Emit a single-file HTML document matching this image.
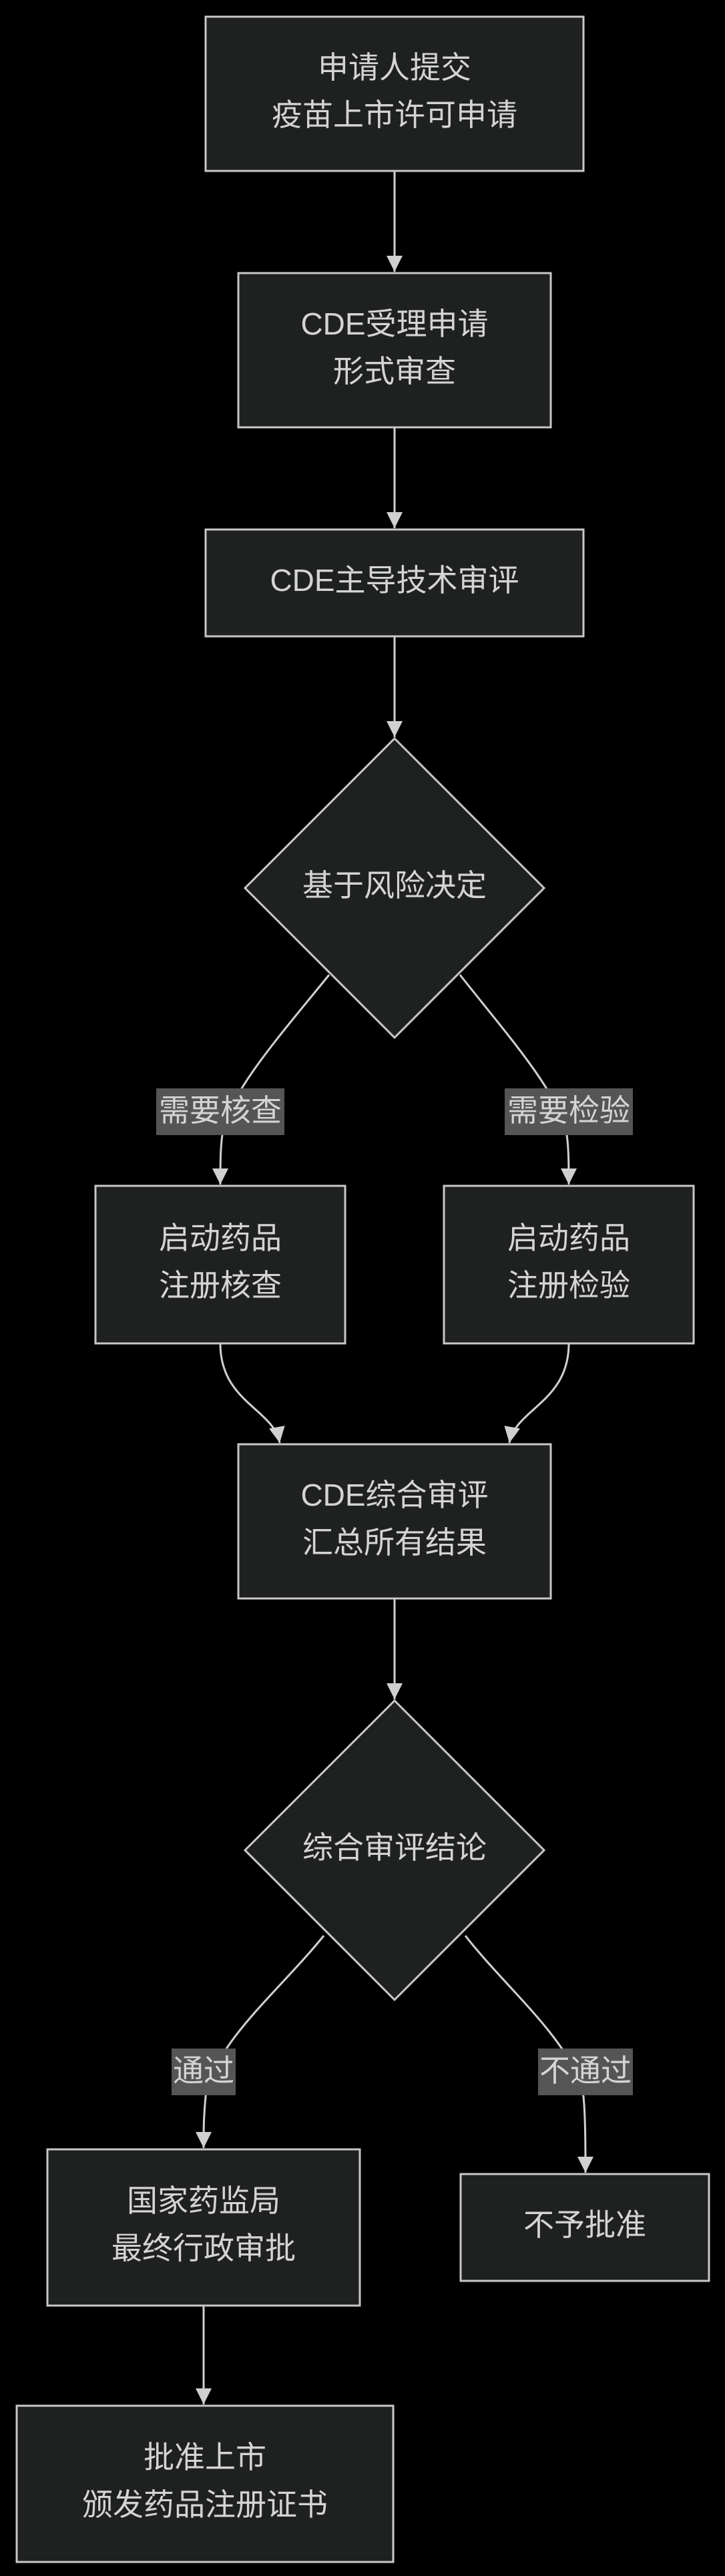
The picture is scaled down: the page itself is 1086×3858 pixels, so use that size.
<!DOCTYPE html>
<html><head><meta charset="utf-8"><style>
html,body{margin:0;padding:0;background:#000;}
svg{display:block;}
text{font-family:"Liberation Sans","Noto Sans CJK SC",sans-serif;font-size:46px;fill:#d4d4d4;text-anchor:middle;dominant-baseline:central;}
.n{fill:#1f2020;stroke:#c8c8c8;stroke-width:3;}
.e{fill:none;stroke:#d0d0d0;stroke-width:3;}
.lb{fill:#555;}
</style></head><body>
<svg width="1086" height="3858" viewBox="0 0 1086 3858" xmlns="http://www.w3.org/2000/svg">
<defs>
<marker id="b" viewBox="0 0 10 10" refX="10" refY="5" markerWidth="24" markerHeight="24" markerUnits="userSpaceOnUse" orient="auto"><path d="M0,0 L10,5 L0,10 z" fill="#d0d0d0"/></marker></defs>

<path class="e" d="M591,256 L591,407" marker-end="url(#b)"/>
<path class="e" d="M591,640 L591,791" marker-end="url(#b)"/>
<path class="e" d="M591,953 L591,1104" marker-end="url(#b)"/>
<path class="e" d="M493,1460 C420,1550 340,1640 333,1700 C330,1720 330,1750 330,1774" marker-end="url(#b)"/>
<path class="e" d="M689,1460 C760,1550 840,1640 849,1700 C852,1720 852,1750 852,1774" marker-end="url(#b)"/>
<path class="e" d="M330,2012 C330,2100 410,2110 419,2161" marker-end="url(#b)"/>
<path class="e" d="M852,2012 C852,2100 772,2110 763,2161" marker-end="url(#b)"/>
<path class="e" d="M591,2394 L591,2545" marker-end="url(#b)"/>
<path class="e" d="M485,2899 C420,2980 320,3060 308,3140 C305,3170 305,3190 305,3217" marker-end="url(#b)"/>
<path class="e" d="M697,2899 C760,2980 860,3060 874,3140 C877,3170 877,3220 877,3254" marker-end="url(#b)"/>
<path class="e" d="M305,3453 L305,3601" marker-end="url(#b)"/>

<g transform="translate(0,-4)">
<rect class="n" x="308" y="29" width="566" height="231"/>
</g>
<rect class="n" x="308" y="25" width="566" height="231"/>
<text x="591" y="101">申请人提交</text><text x="591" y="172">疫苗上市许可申请</text>
<rect class="n" x="357" y="409" width="468" height="231"/>
<text x="591" y="485">CDE受理申请</text><text x="591" y="556">形式审查</text>
<rect class="n" x="308" y="793" width="566" height="160"/>
<text x="591" y="869">CDE主导技术审评</text>
<polygon class="n" points="591,1106 815,1330 591,1554 367,1330"/>
<text x="591" y="1326">基于风险决定</text>
<rect class="lb" x="234" y="1630" width="192" height="70"/><text x="330" y="1663">需要核查</text>
<rect class="lb" x="756" y="1630" width="192" height="70"/><text x="852" y="1663">需要检验</text>
<rect class="n" x="143" y="1776" width="374" height="236"/>
<text x="330" y="1854">启动药品</text><text x="330" y="1925">注册核查</text>
<rect class="n" x="665" y="1776" width="374" height="236"/>
<text x="852" y="1854">启动药品</text><text x="852" y="1925">注册检验</text>
<rect class="n" x="357" y="2163" width="468" height="231"/>
<text x="591" y="2239">CDE综合审评</text><text x="591" y="2310">汇总所有结果</text>
<polygon class="n" points="591,2547 815,2771 591,2995 367,2771"/>
<text x="591" y="2767">综合审评结论</text>
<rect class="lb" x="257" y="3068" width="96" height="70"/><text x="305" y="3101">通过</text>
<rect class="lb" x="806" y="3068" width="142" height="70"/><text x="877" y="3101">不通过</text>
<rect class="n" x="71" y="3219" width="468" height="234"/>
<text x="305" y="3296">国家药监局</text><text x="305" y="3367">最终行政审批</text>
<rect class="n" x="690" y="3256" width="372" height="160"/>
<text x="876" y="3332">不予批准</text>
<rect class="n" x="25" y="3603" width="564" height="234"/>
<text x="307" y="3680">批准上市</text><text x="307" y="3751">颁发药品注册证书</text>
</svg>
</body></html>
